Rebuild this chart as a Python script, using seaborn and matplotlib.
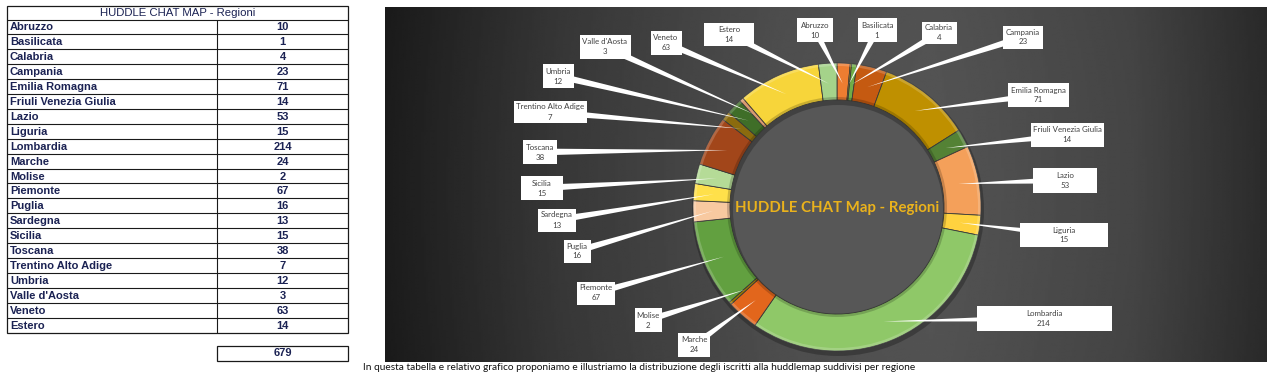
import numpy as np
import matplotlib
matplotlib.use("Agg")
import matplotlib.pyplot as plt
from matplotlib.patches import Rectangle, Polygon, Wedge
import seaborn as sns

# ---------------- data ----------------
regions = ["Abruzzo", "Basilicata", "Calabria", "Campania", "Emilia Romagna",
           "Friuli Venezia Giulia", "Lazio", "Liguria", "Lombardia", "Marche",
           "Molise", "Piemonte", "Puglia", "Sardegna", "Sicilia", "Toscana",
           "Trentino Alto Adige", "Umbria", "Valle d'Aosta", "Veneto", "Estero"]
counts = [10, 1, 4, 23, 71, 14, 53, 15, 214, 24, 2, 67, 16, 13, 15, 38, 7, 12, 3, 63, 14]
table_title = "HUDDLE CHAT MAP - Regioni"
chart_title = "HUDDLE CHAT Map - Regioni"
caption = ("In questa tabella e relativo grafico proponiamo e illustriamo la distribuzione "
           "degli iscritti alla huddlemap suddivisi per regione")

# ---------------- style / layout ----------------
seg_colors = ["#ED7D31", "#FFC000", "#70AD47", "#C55A11", "#BF9000", "#548235",
              "#F4A05A", "#FFD23F", "#8FC868", "#E2661C", "#9C7A00", "#62A040",
              "#F8C9A0", "#FFE04A", "#B5DB97", "#A2461A", "#8B6B0E", "#3F6E28",
              "#D89A70", "#F7D53A", "#A5D38A"]
# label boxes (centre x, centre y, width, height) in pixels, y downward
label_boxes = [(815, 30, 36, 24), (877, 30, 39, 24), (939, 33, 35, 22), (1023, 37, 40, 23),
               (1038, 95, 61, 24), (1067, 135, 73, 24), (1065, 180, 64, 25), (1064, 235, 88, 24),
               (1044, 318, 135, 25), (694, 345, 32, 24), (648, 320, 27, 24), (596, 293, 38, 23),
               (577, 251, 27, 23), (557, 220, 38, 23), (542, 188, 42, 24), (540, 152, 34, 24),
               (550, 112, 73, 22), (558, 76, 31, 24), (605, 47, 51, 24), (666, 43, 31, 24),
               (729, 34, 50, 23)]

W, H = 1280, 382
sns.set_theme(style="white")
plt.rcParams["font.family"] = ["Liberation Sans", "DejaVu Sans"]
palette = sns.color_palette(seg_colors)

fig = plt.figure(figsize=(W / 100, H / 100), dpi=100)
fig.patch.set_facecolor("white")

# ---------- table (figure-pixel axes) ----------
tax = fig.add_axes([0, 0, 1, 1], zorder=0)
tax.set_xlim(0, W)
tax.set_ylim(H, 0)
tax.set_axis_off()
navy = "#1B2253"
lc = "#1a1a1a"
x0, x1, xm = 7, 348, 217
y_top, y_head = 6, 19.5
rh = (332.5 - y_head) / len(regions)
y_bot = y_head + rh * len(regions)
tax.add_patch(Rectangle((x0, y_top), x1 - x0, y_bot - y_top, fill=False, ec=lc, lw=0.9))
tax.hlines([y_head + rh * k for k in range(len(regions))], x0, x1, color=lc, lw=0.8)
tax.vlines(xm, y_head, y_bot, color=lc, lw=0.8)
tax.text((x0 + x1) / 2, (y_top + y_head) / 2 + 0.5, table_title, ha="center", va="center",
         fontsize=8.2, color=navy)
for k, (r, c) in enumerate(zip(regions, counts)):
    yc = y_head + rh * (k + 0.5) + 0.5
    tax.text(x0 + 3, yc, r, ha="left", va="center", fontsize=8, fontweight="bold", color=navy)
    tax.text((xm + x1) / 2, yc, str(c), ha="center", va="center", fontsize=8,
             fontweight="bold", color=navy)
tax.add_patch(Rectangle((xm, 346), x1 - xm, 15, fill=False, ec=lc, lw=0.9))
tax.text((xm + x1) / 2, 353.5, str(sum(counts)), ha="center", va="center", fontsize=8,
         fontweight="bold", color=navy)
tax.text(363, 368, caption, ha="left", va="center", fontsize=7.3, color="#111111",
         family=["Lato", "DejaVu Sans"])

# ---------- chart panel ----------
px0, px1, py0, py1 = 385, 1267, 7, 362
ax = fig.add_axes([px0 / W, (H - py1) / H, (px1 - px0) / W, (py1 - py0) / H], zorder=2)
ax.set_xlim(px0, px1)
ax.set_ylim(H - py1, H - py0)

# background gradient
gx = np.linspace(0, 1, 400)
gy = np.linspace(0, 1, 160)
GX, GY = np.meshgrid(gx, gy)
base = np.interp(GX, [0, 0.2, 0.45, 0.62, 0.85, 1.0], [0.11, 0.22, 0.31, 0.33, 0.27, 0.17])
grad = base - 0.03 * (GY - 0.5) ** 2
ax.imshow(grad, extent=(px0, px1, H - py1, H - py0), cmap="gray", vmin=0, vmax=1,
          aspect="auto", zorder=0, interpolation="bilinear")

cx, cy = 837, H - 207
R, ring = 144, 37
# soft shadow below ring
ax.add_patch(Wedge((cx + 1, cy - 3), R + 2, 0, 360, width=ring + 4, fc="black", alpha=0.25,
                   ec="none", zorder=2))
ax.add_patch(plt.Circle((cx, cy), R - ring, color="#575757", zorder=1))
wedges, _ = ax.pie(counts, colors=palette, startangle=90, counterclock=False,
                   radius=R, center=(cx, cy), frame=True,
                   wedgeprops=dict(width=ring, edgecolor="#3a3a3a", linewidth=0.6))
for w in wedges:
    w.set_zorder(3)
# subtle bevel highlights
ax.add_patch(Wedge((cx, cy), R, 0, 360, width=3, fc="white", alpha=0.18, ec="none", zorder=4))
ax.add_patch(Wedge((cx, cy), R - ring + 3, 0, 360, width=3, fc="black", alpha=0.18, ec="none", zorder=4))

ax.text(cx, cy - 1, chart_title, ha="center", va="center", fontsize=10.8, fontweight="bold",
        color="#EAB21C", family=["Lato", "DejaVu Sans"], zorder=6)

# labels with tapered leader lines
total = sum(counts)
cum = 0
for name, val, (bx, by, bw, bh) in zip(regions, counts, label_boxes):
    mid = (cum + val / 2) / total * 2 * np.pi
    cum += val
    tx = cx + (R - ring / 2 - 2) * np.sin(mid)
    ty = cy + (R - ring / 2 - 2) * np.cos(mid)
    byd = H - by
    dx, dy = tx - bx, ty - byd
    L = np.hypot(dx, dy)
    nx, ny = -dy / L, dx / L
    hw = 3.4
    ax.add_patch(Polygon([(bx + nx * hw, byd + ny * hw), (bx - nx * hw, byd - ny * hw), (tx, ty)],
                         closed=True, fc="white", ec="none", zorder=5))
    ax.add_patch(Rectangle((bx - bw / 2, byd - bh / 2), bw, bh, fc="white", ec="none", zorder=7))
    ax.text(bx, byd, f"{name}\n{val}", ha="center", va="center", fontsize=5.7,
            color="#404040", linespacing=1.5, family=["Lato", "DejaVu Sans"], zorder=8)

ax.set_xlim(px0, px1)
ax.set_ylim(H - py1, H - py0)
ax.set_aspect("auto")
ax.set_axis_off()

fig.savefig("out.png", dpi=100, facecolor="white")
